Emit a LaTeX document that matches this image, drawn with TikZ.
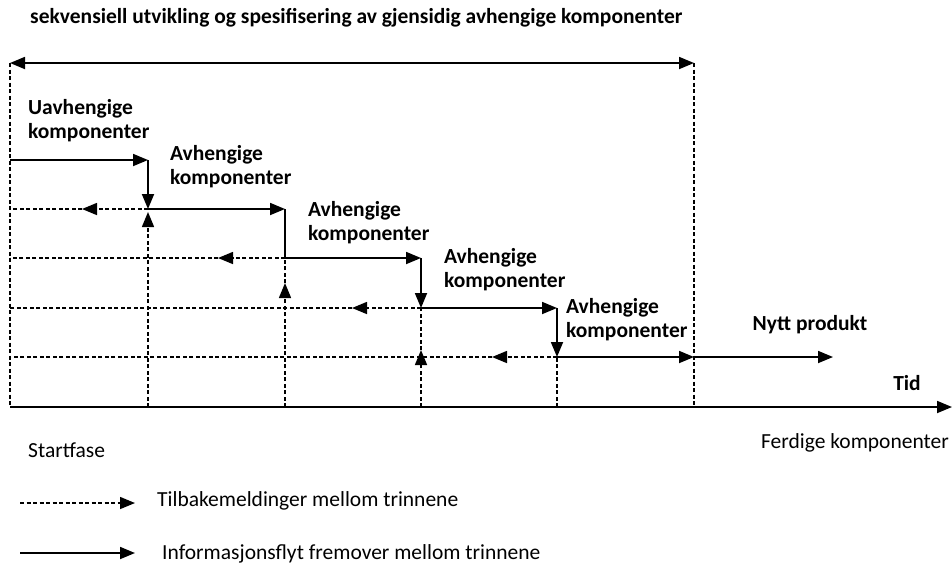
\documentclass[tikz,border=0pt]{standalone}
\usepackage{fontspec}
\setmainfont{Carlito}
\usetikzlibrary{arrows.meta}

\tikzset{
  fwd/.style={line width=1.8pt, -{Triangle[length=15pt,width=12pt]}},
  solid line/.style={line width=1.8pt},
  back/.style={line width=1.5pt, dash pattern=on 4pt off 2.5pt},
  backtip/.style={back, -{Triangle[length=15pt,width=12pt]}},
  span/.style={line width=1.8pt, {Triangle[length=15pt,width=12pt]}-{Triangle[length=15pt,width=12pt]}},
  lbl/.style={font=\bfseries\fontsize{21.5}{24}\selectfont, align=left, inner sep=0pt, anchor=west},
  plain/.style={font=\fontsize{21.5}{24}\selectfont, inner sep=0pt}
}

\begin{document}
\begin{tikzpicture}[x=1pt,y=-1pt]
\useasboundingbox (0,0) rectangle (952,566);

% grid points: columns 0..5, rows 0 (top) .. 6 (time axis)
\foreach \i/\x in {0/10,1/148,2/285,3/421,4/557,5/694}
  \foreach \j/\y in {0/63,1/160,2/209,3/258,4/308,5/357,6/407}
    \coordinate (p\i\j) at (\x,\y);

% tips in the middle of the feedback lines
\coordinate (b2) at (82,209);
\coordinate (b3) at (218,258);
\coordinate (b4) at (352,308);
\coordinate (b5) at (492,357);
\coordinate (u1) at (148,212);
\coordinate (u2) at (285,283);
\coordinate (u3) at (421,350);
\coordinate (tend) at (952,407);
\coordinate (pend) at (833,357);

\node[lbl] (title) at (30,18)
  {sekvensiell utvikling og spesifisering av gjensidig avhengige komponenter};

% frame
\draw[span] (p00) -- (p50);
\draw[back] (p00) -- (p06);
\draw[back] (p50) -- (p56);
\draw[fwd] (p06) -- (tend);

% feedback lines
\draw[backtip] (p12) -- (b2); \draw[back] (b2) -- (p02);
\draw[backtip] (p23) -- (b3); \draw[back] (b3) -- (p03);
\draw[backtip] (p34) -- (b4); \draw[back] (b4) -- (p04);
\draw[backtip] (p45) -- (b5); \draw[back] (b5) -- (p05);
\draw[backtip] (p16) -- (u1);
\draw[backtip] (p26) -- (u2); \draw[back] (u2) -- (p23);
\draw[backtip] (p36) -- (u3); \draw[back] (u3) -- (p34);
\draw[back] (p46) -- (p45);

% forward flow
\draw[fwd] (p01) -- (p11); \draw[fwd] (p11) -- (p12);
\draw[fwd] (p12) -- (p22); \draw[solid line] (p22) -- (p23);
\draw[fwd] (p23) -- (p33); \draw[fwd] (p33) -- (p34);
\draw[fwd] (p34) -- (p44); \draw[fwd] (p44) -- (p45);
\draw[fwd] (p45) -- (p55); \draw[fwd] (p55) -- (pend);

% labels
\node[lbl] (uavh) at (28,121) {Uavhengige\\komponenter};
\node[lbl] (avh1) at (170,167) {Avhengige\\komponenter};
\node[lbl] (avh2) at (308,223) {Avhengige\\komponenter};
\node[lbl] (avh3) at (444,270) {Avhengige\\komponenter};
\node[lbl] (avh4) at (566,320) {Avhengige\\komponenter};
\node[lbl, anchor=center] (nytt) at (810,325) {Nytt produkt};
\node[lbl, anchor=center] (tid) at (907,383) {Tid};
\node[plain, anchor=west] (start) at (28,450) {Startfase};
\node[plain, anchor=east] (ferdig) at (949,443) {Ferdige komponenter};

% legend
\coordinate (l1a) at (20,503); \coordinate (l1b) at (135,503);
\coordinate (l2a) at (20,553); \coordinate (l2b) at (135,553);
\draw[backtip] (l1a) -- (l1b);
\draw[fwd] (l2a) -- (l2b);
\node[plain, anchor=west] (leg1) at (157,501) {Tilbakemeldinger mellom trinnene};
\node[plain, anchor=west] (leg2) at (162,554) {Informasjonsflyt fremover mellom trinnene};
\end{tikzpicture}
\end{document}
